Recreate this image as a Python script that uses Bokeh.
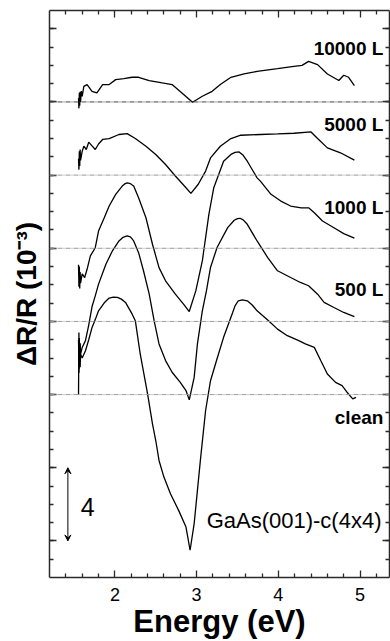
from bokeh.plotting import figure
from bokeh.models import FixedTicker, LinearAxis, Range1d, Span, Label, Arrow, VeeHead
from bokeh.embed import file_html
from bokeh.resources import INLINE

# ---------------- data ----------------
labels = ["clean", "500 L", "1000 L", "5000 L", "10000 L"]
offsets = [0, 4, 8, 12, 16]          # vertical offsets of the spectra (10^-3)

e_clean = [1.555, 1.56, 1.562, 1.565, 1.568, 1.57, 1.575, 1.58, 1.60, 1.64, 1.68, 1.72, 1.76, 1.80,
           1.87, 1.93, 1.98, 2.03, 2.08, 2.13, 2.21, 2.25, 2.31, 2.40, 2.46, 2.50, 2.54, 2.60, 2.68,
           2.78, 2.87, 2.92, 2.97, 3.01, 3.05, 3.11, 3.17, 3.25, 3.33, 3.44, 3.47, 3.51, 3.56, 3.62,
           3.68, 3.74, 3.88, 3.99, 4.11, 4.25, 4.33, 4.44, 4.52, 4.60, 4.70, 4.78, 4.84, 4.91, 4.95]
v_clean = [0.0, 3.4, 1.2, 3.0, 1.6, 2.8, 1.5, 2.2, 2.0, 2.4, 3.0, 3.66, 4.1, 4.58,
           5.02, 5.28, 5.33, 5.31, 5.22, 5.04, 4.41, 4.04, 2.22, 0.04, -1.60, -2.51, -3.60, -4.51,
           -5.42, -6.33, -7.24, -8.51, -7.05, -5.24, -3.42, -0.87, 0.76, 1.96, 3.13, 4.47, 4.85,
           5.13, 5.18, 5.13, 4.90, 4.58, 4.04, 3.58, 3.22, 2.95, 2.77, 2.58, 1.85, 1.13, 0.67,
           0.49, 0.13, -0.23, -0.15]

e_500 = [1.555, 1.56, 1.565, 1.57, 1.575, 1.58, 1.60, 1.64, 1.68, 1.72, 1.76, 1.80, 1.89, 1.97,
         2.05, 2.10, 2.15, 2.19, 2.23, 2.29, 2.35, 2.42, 2.48, 2.54, 2.62, 2.70, 2.80, 2.87, 2.91,
         2.97, 3.01, 3.07, 3.12, 3.17, 3.25, 3.38, 3.46, 3.50, 3.53, 3.57, 3.62, 3.74, 3.87, 3.99,
         4.15, 4.27, 4.37, 4.48, 4.56, 4.68, 4.80, 4.93]
v_500 = [-1.0, -2.6, -0.9, -2.2, -1.2, -1.8, -1.42, -1.05, -0.2, 0.80, 1.4, 2.04, 3.13, 3.86,
         4.40, 4.60, 4.68, 4.62, 4.40, 3.76, 2.77, 1.49, 0.04, -1.23, -2.14, -2.78, -3.33, -3.78,
         -4.29, -3.06, -1.23, 0.58, 1.67, 2.95, 4.04, 5.13, 5.53, 5.62, 5.64, 5.55, 5.31, 4.40,
         3.49, 2.77, 2.40, 2.13, 1.95, 1.49, 1.04, 0.76, 0.49, 0.26]

e_1000 = [1.555, 1.56, 1.565, 1.57, 1.575, 1.58, 1.60, 1.63, 1.66, 1.70, 1.76, 1.80, 1.87, 1.93,
          2.01, 2.09, 2.12, 2.15, 2.19, 2.23, 2.29, 2.38, 2.46, 2.54, 2.62, 2.74, 2.84, 2.91, 2.99,
          3.07, 3.15, 3.21, 3.33, 3.42, 3.47, 3.52, 3.57, 3.62, 3.74, 3.78, 3.91, 4.03, 4.15, 4.28,
          4.37, 4.44, 4.54, 4.68, 4.80, 4.93]
v_1000 = [-0.9, -2.1, -1.0, -2.2, -1.3, -1.9, -1.4, -1.6, -1.15, -0.42, 0.03, 0.94, 1.67, 2.31,
          2.95, 3.40, 3.52, 3.58, 3.53, 3.40, 2.76, 1.67, 0.22, -1.06, -1.78, -2.51, -3.05, -3.46,
          -2.33, -0.69, 1.85, 3.31, 4.76, 5.13, 5.24, 5.27, 5.08, 4.76, 3.85, 3.67, 2.95, 2.58,
          2.31, 2.21, 2.21, 1.94, 1.49, 1.12, 0.80, 0.55]

e_5000 = [1.555, 1.56, 1.565, 1.57, 1.575, 1.58, 1.60, 1.62, 1.65, 1.68, 1.72, 1.76, 1.80, 1.85,
          1.93, 2.05, 2.15, 2.25, 2.38, 2.50, 2.62, 2.74, 2.87, 2.93, 3.02, 3.11, 3.17, 3.29,
          3.42, 3.54, 3.78, 3.99, 4.19, 4.40, 4.48, 4.60, 4.76, 4.93]
v_5000 = [0.9, 0.3, 1.3, 0.5, 1.4, 0.8, 1.3, 1.58, 1.4, 1.8, 1.6, 1.40, 1.7, 1.95,
          2.0, 2.22, 2.27, 2.0, 1.58, 1.13, 0.58, -0.05, -0.69, -1.0, -0.5, 0.22, 0.94, 1.58,
          2.0, 2.18, 2.22, 2.25, 2.29, 2.36, 2.0, 1.49, 1.22, 0.82]

e_10000 = [1.555, 1.56, 1.565, 1.57, 1.575, 1.58, 1.59, 1.60, 1.62, 1.66, 1.72, 1.78, 1.85, 1.93,
           2.01, 2.11, 2.21, 2.29, 2.42, 2.58, 2.70, 2.82, 2.95, 3.07, 3.19, 3.29, 3.42, 3.58,
           3.74, 3.99, 4.19, 4.29, 4.37, 4.48, 4.60, 4.74, 4.80, 4.86, 4.93]
v_10000 = [0.2, -0.35, 0.5, -0.2, 0.55, 0.0, 0.6, 0.3, 0.85, 0.95, 0.58, 0.49, 0.95, 0.95,
           1.22, 1.28, 1.35, 1.35, 1.17, 1.04, 0.95, 0.49, -0.02, 0.31, 0.58, 0.95, 1.35, 1.53,
           1.67, 1.82, 1.95, 2.0, 2.22, 2.04, 1.53, 1.17, 1.46, 1.35, 0.89]

energies = [e_clean, e_500, e_1000, e_5000, e_10000]
values = [v_clean, v_500, v_1000, v_5000, v_10000]

x_major = [2, 3, 4, 5]
x_minor = [1.4, 1.6, 1.8, 2.2, 2.4, 2.6, 2.8, 3.2, 3.4, 3.6, 3.8, 4.2, 4.4, 4.6, 4.8, 5.2]
y_major = [-8, -4, 0, 4, 8, 12, 16, 20]
y_minor = list(range(-9, 21))

FONT = "Liberation Sans"
AXC = "#2a2a2a"

p = figure(width=390, height=641, x_range=Range1d(1.2, 5.36), y_range=Range1d(-10, 21),
           output_backend="svg", toolbar_location=None,
           min_border_left=49, min_border_top=10, min_border_right=1, min_border_bottom=64,
           x_axis_label="Energy (eV)", y_axis_label="\u0394R/R (10\u207b\u00b3)")
p.xgrid.visible = False
p.ygrid.visible = False
p.outline_line_color = None
p.background_fill_color = "white"
p.border_fill_color = "white"


def style_axis(ax, major, minor, show_labels):
    ax.ticker = FixedTicker(ticks=major, minor_ticks=minor)
    ax.axis_line_color = AXC
    ax.axis_line_width = 1.5
    ax.major_tick_line_color = AXC
    ax.minor_tick_line_color = AXC
    ax.major_tick_line_width = 1.3
    ax.minor_tick_line_width = 1.3
    ax.major_tick_in = 7
    ax.major_tick_out = 0
    ax.minor_tick_in = 4
    ax.minor_tick_out = 0
    if show_labels:
        ax.major_label_text_font = FONT
        ax.major_label_text_font_size = "18px"
        ax.major_label_text_color = "black"
        ax.major_label_standoff = 10
    else:
        ax.major_label_overrides = {t: "" for t in major}
        ax.major_label_text_font_size = "1px"
        ax.major_label_standoff = 0


xb = p.xaxis[0]
style_axis(xb, x_major, x_minor, True)
xb.axis_label_text_font = FONT
xb.axis_label_text_font_size = "31px"
xb.axis_label_text_font_style = "bold"
xb.axis_label_text_color = "black"
xb.axis_label_standoff = 0

yl = p.yaxis[0]
style_axis(yl, y_major, y_minor, False)
yl.axis_label_text_font = FONT
yl.axis_label_text_font_size = "28px"
yl.axis_label_text_font_style = "bold"
yl.axis_label_text_color = "black"
yl.axis_label_standoff = 8

xt = LinearAxis()
style_axis(xt, x_major, x_minor, False)
p.add_layout(xt, "above")
yr = LinearAxis()
style_axis(yr, y_major, y_minor, False)
p.add_layout(yr, "right")

# baselines
for i, off in enumerate(offsets):
    col = "#444444" if i == len(offsets) - 1 else "#9a9a9a"
    p.add_layout(Span(location=off, dimension="width", line_color=col, line_width=1,
                      line_dash="5 1 1 1"))

# spectra
for e, v, off in zip(energies, values, offsets):
    p.line(e, [val + off for val in v], line_color="black", line_width=1.3)

# curve labels
label_dy = [-1.24, 1.77, 2.22, 2.77, 2.93]
for txt, off, dy in zip(labels, offsets, label_dy):
    p.add_layout(Label(x=5.285, y=off + dy, text=txt, text_align="right", text_baseline="middle",
                       text_font=FONT, text_font_size="19px", text_font_style="bold",
                       text_color="black"))

p.add_layout(Label(x=5.262, y=-6.87, text="GaAs(001)-c(4x4)", text_align="right",
                   text_baseline="middle", text_font=FONT, text_font_size="22px",
                   text_color="black"))

# scale bar
p.add_layout(Arrow(x_start=1.425, y_start=-4, x_end=1.425, y_end=-8,
                   start=VeeHead(size=6, line_width=1, line_color="black"),
                   end=VeeHead(size=6, line_width=1, line_color="black"),
                   line_width=1, line_color="black"))
p.add_layout(Label(x=1.666, y=-6.16, text="4", text_align="center", text_baseline="middle",
                   text_font=FONT, text_font_size="25px", text_color="black"))

open("out.html", "w").write(file_html(p, INLINE))
